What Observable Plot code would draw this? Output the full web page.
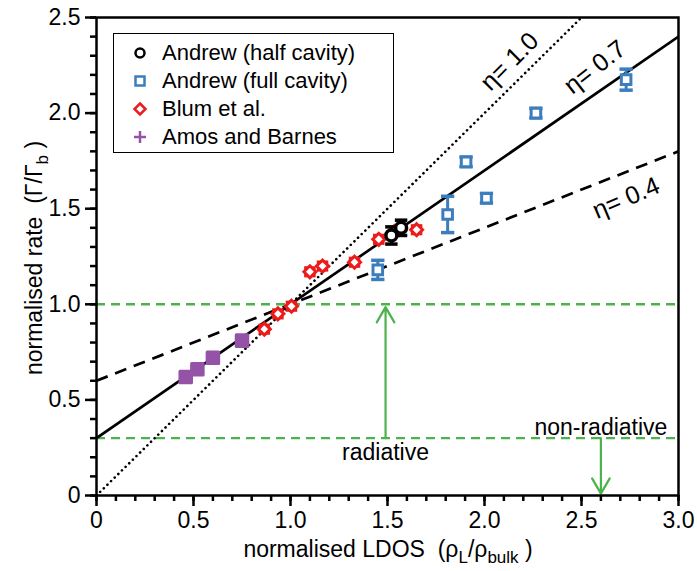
<!DOCTYPE html>
<html>
<head>
<meta charset="utf-8">
<script src="https://cdn.jsdelivr.net/npm/d3@7"></script>
<script src="https://cdn.jsdelivr.net/npm/@observablehq/plot@0.6"></script>
<style>
  html, body { margin: 0; padding: 0; background: #fff; }
  #wrap { position: relative; width: 697px; height: 571px; font-family: "Liberation Sans", Arial, sans-serif; }
  #legend { position: absolute; left: 113px; top: 33px; width: 279px; height: 118px; border: 1.5px solid #000; background: #fff; }
  .row { position: absolute; left: 0; height: 28px; display: flex; align-items: center; font-size: 22px; color: #000; white-space: nowrap; }
  .row svg { width: 48px; height: 28px; }
</style>
</head>
<body>
<div id="wrap"></div>
<script>
// ---------------- data ----------------
const seriesNames = ["Andrew (half cavity)", "Andrew (full cavity)", "Blum et al.", "Amos and Barnes"];
const seriesColors = ["#000000", "#3b7dbd", "#ec1c1c", "#9453a6"];

const halfX = [1.52, 1.57];
const halfY = [1.36, 1.40];
const halfErr = [0.045, 0.04];

const fullX = [1.45, 1.81, 1.905, 2.01, 2.265, 2.73];
const fullY = [1.18, 1.47, 1.745, 1.555, 2.0, 2.175];
const fullErr = [0.05, 0.095, 0.025, 0.025, 0.025, 0.055];

const blumX = [0.865, 0.935, 1.005, 1.10, 1.165, 1.33, 1.455, 1.535, 1.65];
const blumY = [0.87, 0.95, 0.99, 1.17, 1.20, 1.22, 1.34, 1.38, 1.39];
const blumErr = [0.02, 0.02, 0.02, 0.02, 0.02, 0.02, 0.02, 0.02, 0.02];

const amosX = [0.46, 0.52, 0.60, 0.75];
const amosY = [0.62, 0.66, 0.72, 0.81];

const etaValues = [1.0, 0.7, 0.4];
const etaLabels = ["η= 1.0", "η= 0.7", "η= 0.4"];
const etaLabelX = [2.13, 2.57, 2.73];
const etaLabelY = [2.27, 2.24, 1.555];
const etaLabelAngle = [-45, -38, -23];

const levelY = [1.0, 0.3];
const arrowX = [1.49, 2.6];
const arrowFrom = [0.3, 0.3];
const arrowTo = [0.985, 0.01];
const noteText = ["radiative", "non-radiative"];
const noteX = [1.49, 2.6];
const noteY = [0.222, 0.356];

const xMajor = [0, 0.5, 1.0, 1.5, 2.0, 2.5, 3.0];
const yMajor = [0, 0.5, 1.0, 1.5, 2.0, 2.5];
const xMinor = d3.range(0, 3.001, 0.1);
const yMinor = d3.range(0, 2.501, 0.1);

// ---------------- tables ----------------
const zip = (xs, ys, es) => xs.map((x, i) => ({x, y: ys[i], e: es ? es[i] : 0}));
const half = zip(halfX, halfY, halfErr);
const full = zip(fullX, fullY, fullErr);
const blum = zip(blumX, blumY, blumErr);
const amos = zip(amosX, amosY);

const lineData = etaValues.flatMap((eta, i) => [0, 3].map(x => ({eta, k: i, x, y: (1 - eta) + eta * x})));
const etaText = etaLabels.map((t, i) => ({t, x: etaLabelX[i], y: etaLabelY[i], a: etaLabelAngle[i]}));
const arrows = arrowX.map((x, i) => ({x, y1: arrowFrom[i], y2: arrowTo[i]}));
const notes = noteText.map((t, i) => ({t, x: noteX[i], y: noteY[i]}));

const cap = { draw(ctx, size) { const w = Math.sqrt(size) / 2; ctx.moveTo(-w, 0); ctx.lineTo(w, 0); } };
const fmt = d => d === 0 ? "0" : d.toFixed(1);
const green = "#4cb24c";

function errorBars(data, color, capR, width) {
  return [
    Plot.ruleX(data, {x: "x", y1: d => d.y - d.e, y2: d => d.y + d.e, stroke: color, strokeWidth: width}),
    Plot.dot(data, {x: "x", y: d => d.y - d.e, symbol: cap, r: capR, stroke: color, strokeWidth: width + 0.5}),
    Plot.dot(data, {x: "x", y: d => d.y + d.e, symbol: cap, r: capR, stroke: color, strokeWidth: width + 0.5})
  ];
}

const dashes = ["0.1,5", null, "12,8"];

const chart = Plot.plot({
  width: 697,
  height: 571,
  marginLeft: 96,
  marginRight: 19,
  marginTop: 17,
  marginBottom: 76,
  style: {fontFamily: "'Liberation Sans', Arial, sans-serif", fontSize: "23px", background: "white", color: "black"},
  x: {domain: [0, 3], label: null},
  y: {domain: [0, 2.5], label: null},
  marks: [
    Plot.ruleY(levelY, {stroke: green, strokeWidth: 2.4, strokeDasharray: "9,6"}),
    Plot.arrow(arrows, {x1: "x", x2: "x", y1: "y1", y2: "y2", stroke: green, strokeWidth: 2.2, headLength: 12, bend: 0}),
    ...etaValues.map((eta, i) => Plot.line(lineData.filter(d => d.k === i), {
      x: "x", y: "y", stroke: "black", strokeWidth: i === 0 ? 2.6 : 2.7,
      strokeDasharray: dashes[i], strokeLinecap: i === 0 ? "round" : "butt", clip: true
    })),
    Plot.text(etaText, {x: "x", y: "y", text: "t", rotate: "a", fontSize: 25, fill: "black"}),
    Plot.text(notes, {x: "x", y: "y", text: "t", fontSize: 23, fill: "black"}),
    // Amos and Barnes
    Plot.dot(amos, {x: "x", y: "y", symbol: "square", r: 6.5, fill: seriesColors[3], stroke: seriesColors[3], strokeWidth: 3, strokeLinejoin: "round"}),
    // Blum
    ...errorBars(blum, seriesColors[2], 6.5, 3),
    Plot.dot(blum, {x: "x", y: "y", symbol: "diamond2", r: 5.4, fill: "white", stroke: seriesColors[2], strokeWidth: 3}),
    // Andrew half
    ...errorBars(half, seriesColors[0], 7, 3),
    Plot.dot(half, {x: "x", y: "y", symbol: "circle", r: 5.5, fill: "white", stroke: seriesColors[0], strokeWidth: 3.5}),
    // Andrew full
    ...errorBars(full, seriesColors[1], 7.5, 3),
    Plot.dot(full, {x: "x", y: "y", symbol: "square", r: 5.4, fill: "white", stroke: seriesColors[1], strokeWidth: 3}),
    // axes
    Plot.axisX({ticks: xMinor, tickSize: 6, tickFormat: () => "", strokeWidth: 2.5, label: null}),
    Plot.axisY({ticks: yMinor, tickSize: 6, tickFormat: () => "", strokeWidth: 2.5, label: null}),
    Plot.axisX({ticks: xMajor, tickSize: 11, tickPadding: 5, tickFormat: fmt, strokeWidth: 2.5, fontSize: 23, label: null}),
    Plot.axisY({ticks: yMajor, tickSize: 11, tickPadding: 5, tickFormat: fmt, strokeWidth: 2.5, fontSize: 23, label: null}),
    Plot.frame({stroke: "black", strokeWidth: 2.5})
  ]
});

document.getElementById("wrap").appendChild(chart);

// axis titles with subscripts
const svg = d3.select(chart);
const yl = svg.append("text")
  .attr("transform", "translate(42,258) rotate(-90)")
  .attr("text-anchor", "middle").attr("font-size", 23).attr("fill", "black")
  .style("white-space", "pre");
yl.append("tspan").text("normalised rate  (Γ/Γ");
yl.append("tspan").text("b").attr("font-size", 17).attr("dy", 6);
yl.append("tspan").text(" )").attr("dy", -6);

const xl = svg.append("text")
  .attr("transform", "translate(388,557)")
  .attr("text-anchor", "middle").attr("font-size", 23).attr("fill", "black")
  .style("white-space", "pre");
xl.append("tspan").text("normalised LDOS  (ρ");
xl.append("tspan").text("L").attr("font-size", 17).attr("dy", 6);
xl.append("tspan").text("/ρ").attr("dy", -6);
xl.append("tspan").text("bulk").attr("font-size", 17).attr("dy", 6);
xl.append("tspan").text(" )").attr("dy", -6);

// legend
const legend = document.createElement("div");
legend.id = "legend";
const markerSvg = [
  `<circle cx="26" cy="14" r="4.5" fill="white" stroke="${seriesColors[0]}" stroke-width="2.5"/>`,
  `<rect x="21.5" y="9.5" width="9" height="9" fill="white" stroke="${seriesColors[1]}" stroke-width="2.5"/>`,
  `<path d="M26,8.5 L31.5,14 L26,19.5 L20.5,14 Z" fill="white" stroke="${seriesColors[2]}" stroke-width="2.5"/>`,
  `<path d="M26,8 V20 M20,14 H32" stroke="${seriesColors[3]}" stroke-width="2.5"/>`
];
seriesNames.forEach((name, i) => {
  const row = document.createElement("div");
  row.className = "row";
  row.style.top = (5 + i * 28) + "px";
  row.innerHTML = `<svg viewBox="0 0 48 28">${markerSvg[i]}</svg><span>${name}</span>`;
  legend.appendChild(row);
});
document.getElementById("wrap").appendChild(legend);
</script>
</body>
</html>
